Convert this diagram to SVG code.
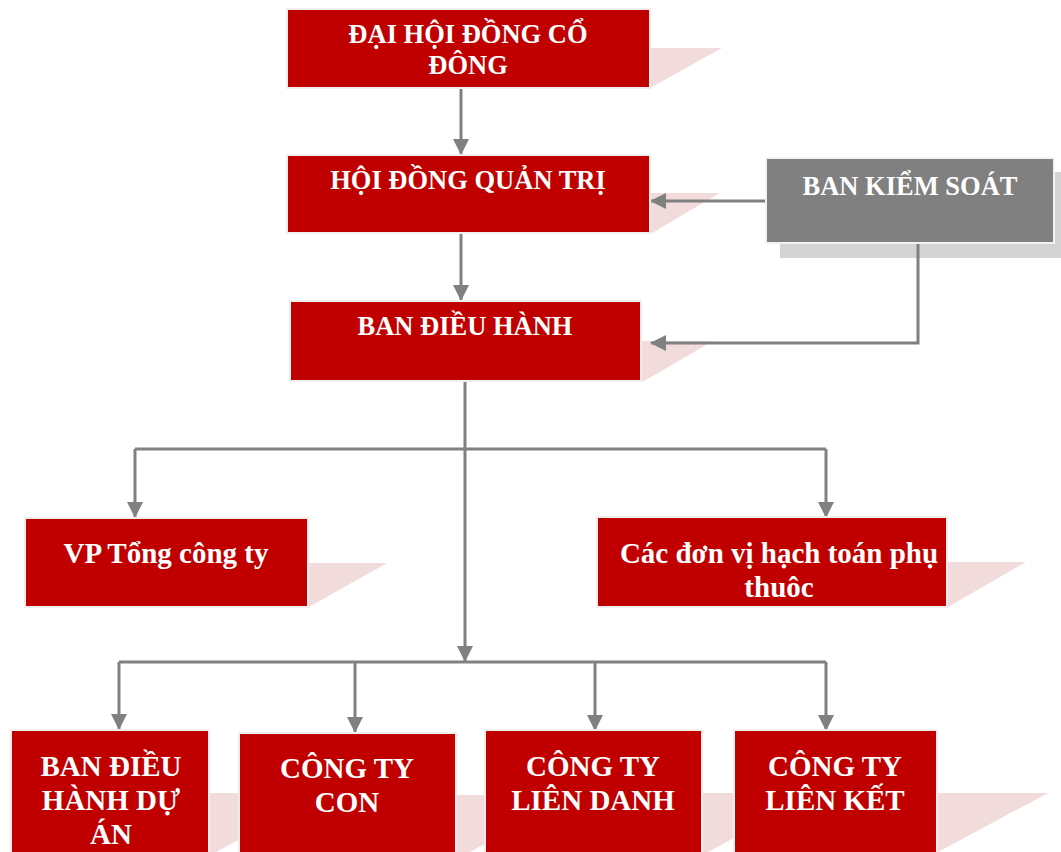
<svg xmlns="http://www.w3.org/2000/svg" width="1061" height="852" viewBox="0 0 1061 852">
<defs>
<style>
.box{fill:#c00000;stroke:#f2eeee;stroke-width:2}
.gbox{fill:#808080;stroke:#f2f2f2;stroke-width:2}
.sh{fill:#f2dcdb}
.gsh{fill:#d4d4d4}
.t{font-family:"Liberation Serif","Times New Roman",serif;font-weight:bold;fill:#ffffff;text-anchor:middle}
.t26{font-size:26.5px}
.t29{font-size:29px}
.c{fill:none;stroke:#808080;stroke-width:3}
</style>
<marker id="ah" markerUnits="userSpaceOnUse" markerWidth="16" markerHeight="16" viewBox="0 0 16 16" refX="15" refY="8" orient="auto">
<path d="M0,0 L16,8 L0,16 Z" fill="#808080"/>
</marker>
</defs>
<rect width="1061" height="852" fill="#ffffff"/>

<g id="shadows">
<polygon class="sh" points="300,48 722,48 650,88 300,88"/>
<polygon class="sh" points="300,193 720,193 652,233 300,233"/>
<polygon class="sh" points="300,341 713,341 644,381 300,381"/>
<polygon class="sh" points="40,563 387,563 309,607 40,607"/>
<polygon class="sh" points="610,562 1026,562 948,607 610,607"/>
<polygon class="sh" points="20,793 325,793 216,852 20,852"/>
<polygon class="sh" points="250,795 575,795 470,852 250,852"/>
<polygon class="sh" points="495,793 817,793 708,852 495,852"/>
<polygon class="sh" points="745,793 1048,793 938,852 745,852"/>
<rect class="gsh" x="780" y="172" width="290" height="86"/>
</g>

<g id="connectors">
<line class="c" x1="461" y1="88" x2="461" y2="154" marker-end="url(#ah)"/>
<line class="c" x1="461" y1="233" x2="461" y2="300" marker-end="url(#ah)"/>
<line class="c" x1="766" y1="201" x2="651" y2="201" marker-end="url(#ah)"/>
<polyline class="c" points="918,243 918,343 651,343" marker-end="url(#ah)"/>
<line class="c" x1="465" y1="381" x2="465" y2="661" marker-end="url(#ah)"/>
<line class="c" x1="135" y1="449" x2="826" y2="449"/>
<line class="c" x1="135" y1="449" x2="135" y2="517" marker-end="url(#ah)"/>
<line class="c" x1="826" y1="449" x2="826" y2="517" marker-end="url(#ah)"/>
<line class="c" x1="119" y1="662" x2="826" y2="662"/>
<line class="c" x1="119" y1="662" x2="119" y2="729" marker-end="url(#ah)"/>
<line class="c" x1="355" y1="662" x2="355" y2="732" marker-end="url(#ah)"/>
<line class="c" x1="595" y1="662" x2="595" y2="730" marker-end="url(#ah)"/>
<line class="c" x1="826" y1="662" x2="826" y2="730" marker-end="url(#ah)"/>
</g>

<g id="dai-hoi-dong-co-dong">
<rect class="box" x="287" y="9" width="363" height="79"/>
<text class="t t26" x="468" y="43">ĐẠI HỘI ĐỒNG CỔ</text>
<text class="t t26" x="468" y="74">ĐÔNG</text>
</g>

<g id="hoi-dong-quan-tri">
<rect class="box" x="287" y="155" width="363" height="78"/>
<text class="t t26" x="468" y="189">HỘI ĐỒNG QUẢN TRỊ</text>
</g>

<g id="ban-kiem-soat">
<rect class="gbox" x="766" y="158" width="288" height="85"/>
<text class="t t26" x="910" y="195">BAN KIỂM SOÁT</text>
</g>

<g id="ban-dieu-hanh">
<rect class="box" x="290" y="301" width="351" height="80"/>
<text class="t t26" x="465" y="335">BAN ĐIỀU HÀNH</text>
</g>

<g id="vp-tong-cong-ty">
<rect class="box" x="25" y="518" width="283" height="89"/>
<text class="t t29" x="166" y="563">VP Tổng công ty</text>
</g>

<g id="cac-don-vi">
<rect class="box" x="597" y="517" width="350" height="90"/>
<text class="t t29" x="779" y="563">Các đơn vị hạch toán phụ</text>
<text class="t t29" x="779" y="597">thuôc</text>
</g>

<g id="ban-dieu-hanh-du-an">
<rect class="box" x="11" y="730" width="198" height="130"/>
<text class="t t29" x="111" y="776">BAN ĐIỀU</text>
<text class="t t29" x="111" y="810">HÀNH DỰ</text>
<text class="t t29" x="111" y="844">ÁN</text>
</g>

<g id="cong-ty-con">
<rect class="box" x="239" y="733" width="217" height="130"/>
<text class="t t29" x="347" y="778">CÔNG TY</text>
<text class="t t29" x="347" y="812">CON</text>
</g>

<g id="cong-ty-lien-danh">
<rect class="box" x="485" y="730" width="217" height="130"/>
<text class="t t29" x="593" y="776">CÔNG TY</text>
<text class="t t29" x="593" y="810">LIÊN DANH</text>
</g>

<g id="cong-ty-lien-ket">
<rect class="box" x="734" y="730" width="203" height="130"/>
<text class="t t29" x="835" y="776">CÔNG TY</text>
<text class="t t29" x="835" y="810">LIÊN KẾT</text>
</g>
</svg>
